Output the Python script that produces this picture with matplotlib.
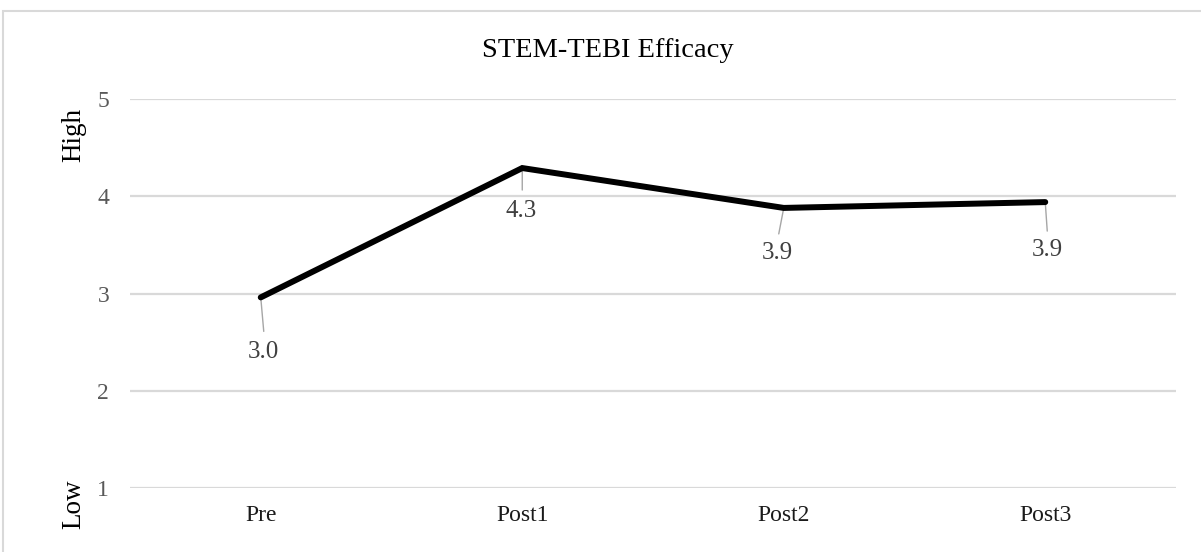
import matplotlib
matplotlib.use("Agg")
import matplotlib.pyplot as plt
from matplotlib.patches import Rectangle

plt.rcParams["font.family"] = ["Liberation Serif", "DejaVu Serif"]

# data
categories = ["Pre", "Post1", "Post2", "Post3"]
efficacy = [2.96, 4.29, 3.88, 3.94]
value_labels = ["3.0", "4.3", "3.9", "3.9"]
y_ticks = [1, 2, 3, 4, 5]

# label placement (pixel offsets from point): leader end, text centre
leader_end = [(3, -34), (0, -22), (-5, -26), (2, -29)]
label_pos = [(3, -55), (-1, -43), (-6, -45), (2, -48)]

W, H = 1201, 552
fig = plt.figure(figsize=(W / 100, H / 100), dpi=100)
ax = fig.add_axes([130 / W, 1 - 488 / H, (1176 - 130) / W, (488 - 99) / H])

x = list(range(len(categories)))
ax.plot(x, efficacy, color="black", linewidth=4.3, solid_capstyle="round",
        solid_joinstyle="miter", zorder=3)

for xi, yi, lab, (lx, ly), (tx, ty) in zip(x, efficacy, value_labels, leader_end, label_pos):
    ax.annotate("", xy=(xi, yi), xytext=(lx, ly), textcoords="offset pixels",
                arrowprops=dict(arrowstyle="-", color="#a6a6a6", lw=1.0,
                                shrinkA=0, shrinkB=0), zorder=2)
    ax.annotate(lab, xy=(xi, yi), xytext=(tx, ty), textcoords="offset pixels",
                ha="center", va="center", fontsize=18, color="#404040")

ax.set_xlim(-0.5, len(categories) - 0.5)
ax.set_ylim(1, 5)
ax.set_yticks(y_ticks)
ax.set_xticks(x)
ax.set_xticklabels(categories)
ax.tick_params(axis="y", length=0, pad=15, labelsize=17, labelcolor="#595959")
ax.tick_params(axis="x", length=0, pad=12, labelsize=17, labelcolor="#1a1a1a")
ax.grid(axis="y", color="#d9d9d9", linewidth=1.6)
ax.set_axisbelow(True)
for side in ax.spines.values():
    side.set_visible(False)

fig.text(607.5 / W, 1 - 57 / H, "STEM-TEBI Efficacy", ha="center", va="baseline",
         fontsize=20.5, color="black")
fig.text(74 / W, 1 - 135 / H, "High", rotation=90, ha="center", va="center",
         fontsize=19.5, color="black")
fig.text(74 / W, 1 - 504 / H, "Low", rotation=90, ha="center", va="center",
         fontsize=19.5, color="black")

# chart-area border (right and bottom edges fall outside the image)
fig.patches.append(Rectangle((3 / W, -0.2), 1.2, 1 - 11 / H + 0.2,
                             transform=fig.transFigure, fill=False,
                             edgecolor="#d9d9d9", linewidth=1.5))

fig.savefig("out.png", dpi=100)
